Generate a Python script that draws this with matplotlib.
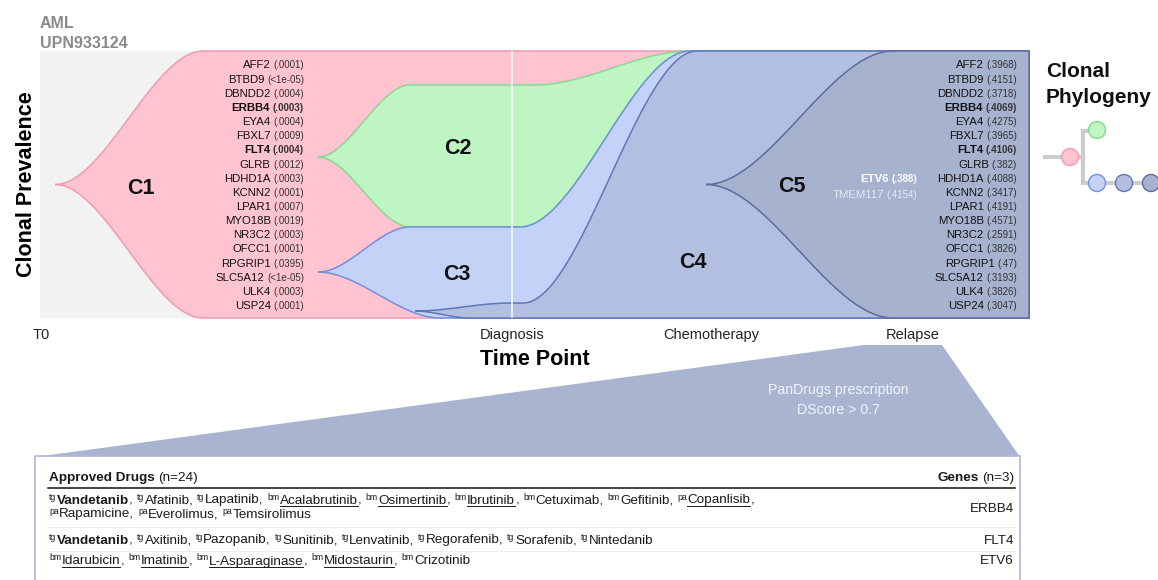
import numpy as np
import matplotlib
matplotlib.use('Agg')
import matplotlib.pyplot as plt
from matplotlib.patches import Polygon, Rectangle, Circle

plt.rcParams['font.family'] = ['Liberation Sans', 'DejaVu Sans']

# ---- data ----
timepoints = ['T0', 'Diagnosis', 'Chemotherapy', 'Relapse']
time_pos = [1, 472, 671, 873]

# clone edges as (time, prevalence) keyframes, upper and lower
clone_names = ['C1', 'C2', 'C3', 'C4', 'C5']
c1_top = [(15, .5), (163, 1.0), (989, 1.0)]
c1_bot = [(15, .5), (163, 0.0), (989, 0.0)]
c2_top = [(278, .603), (370, .873), (495, .873), (650, 1.0), (989, 1.0)]
c2_bot = [(278, .603), (370, .341), (480, .341), (650, 1.0), (989, 1.0)]
c3_top = [(278, .172), (370, .341), (480, .341), (650, 1.0), (989, 1.0)]
c3_bot = [(278, .172), (400, 0.0), (989, 0.0)]
c4_top = [(375, .026), (470, .056), (483, .056), (657, 1.0), (989, 1.0)]
c4_bot = [(375, .026), (430, 0.0), (989, 0.0)]
c5_top = [(666, .5), (853, 1.0), (989, 1.0)]
c5_bot = [(666, .5), (853, 0.0), (989, 0.0)]

genes = ['AFF2', 'BTBD9', 'DBNDD2', 'ERBB4', 'EYA4', 'FBXL7', 'FLT4', 'GLRB', 'HDHD1A',
         'KCNN2', 'LPAR1', 'MYO18B', 'NR3C2', 'OFCC1', 'RPGRIP1', 'SLC5A12', 'ULK4', 'USP24']
vaf_t0 = ['.0001', '<1e-05', '.0004', '.0003', '.0004', '.0009', '.0004', '.0012', '.0003',
          '.0001', '.0007', '.0019', '.0003', '.0001', '.0395', '<1e-05', '.0003', '.0001']
vaf_relapse = ['.3968', '.4151', '.3718', '.4069', '.4275', '.3965', '.4106', '.382', '.4088',
               '.3417', '.4191', '.4571', '.2591', '.3826', '.47', '.3193', '.3826', '.3047']
highlight = ['ERBB4', 'FLT4']
c5_genes = ['ETV6', 'TMEM117']
c5_vaf = ['.388', '.4154']

# drug table: (source, drug, style) b=bold u=underline
erbb4_drugs = [[('tg', 'Vandetanib', 'b'), ('tg', 'Afatinib', ''), ('tg', 'Lapatinib', ''),
                ('bm', 'Acalabrutinib', 'u'), ('bm', 'Osimertinib', 'u'), ('bm', 'Ibrutinib', 'u'),
                ('bm', 'Cetuximab', ''), ('bm', 'Gefitinib', ''), ('pa', 'Copanlisib', 'u')],
               [('pa', 'Rapamicine', ''), ('pa', 'Everolimus', ''), ('pa', 'Temsirolimus', '')]]
flt4_drugs = [[('tg', 'Vandetanib', 'b'), ('tg', 'Axitinib', ''), ('tg', 'Pazopanib', ''),
               ('tg', 'Sunitinib', ''), ('tg', 'Lenvatinib', ''), ('tg', 'Regorafenib', ''),
               ('tg', 'Sorafenib', ''), ('tg', 'Nintedanib', '')]]
etv6_drugs = [[('bm', 'Idarubicin', 'u'), ('bm', 'Imatinib', 'u'), ('bm', 'L-Asparaginase', 'u'),
               ('bm', 'Midostaurin', 'u'), ('bm', 'Crizotinib', '')]]
table_genes = ['ERBB4', 'FLT4', 'ETV6']
table_rows = [erbb4_drugs, flt4_drugs, etv6_drugs]

fills = ['#ffc4d0', '#bff4c3', '#c5d2f7', '#b3bfe0', '#a7b2cf']
edges = ['#f29bb0', '#86d993', '#7090df', '#6077b8', '#5d6c9c']
ink = '#1a1a1a'


def edge_curve(keys, xs):
    kx = np.array([k[0] for k in keys], float)
    ky = np.array([k[1] for k in keys], float)
    out = np.zeros_like(xs)
    for i in range(len(kx) - 1):
        m = (xs >= kx[i]) & (xs <= kx[i + 1])
        t = (xs[m] - kx[i]) / (kx[i + 1] - kx[i])
        s = t * t * (3 - 2 * t)
        out[m] = ky[i] + (ky[i + 1] - ky[i]) * s
    return out


fig = plt.figure(figsize=(11.58, 5.8), dpi=100)

# ---- fish plot ----
ax = fig.add_axes([40 / 1158, 1 - 318 / 580, 989 / 1158, 267 / 580])
ax.set_facecolor('#f2f2f2')
ax.set_xlim(0, 989)
ax.set_ylim(0, 1)
tops = [c1_top, c2_top, c3_top, c4_top, c5_top]
bots = [c1_bot, c2_bot, c3_bot, c4_bot, c5_bot]
for top, bot, fc, ec in zip(tops, bots, fills, edges):
    xs = np.linspace(top[0][0], top[-1][0], 800)
    yt = edge_curve(top, xs)
    yb = edge_curve(bot, xs)
    ax.fill(np.concatenate([xs, xs[::-1]]), np.concatenate([yt, yb[::-1]]),
            facecolor=fc, edgecolor=ec, lw=1.1, clip_on=False)
ax.axvline(time_pos[1], color='white', lw=1.3, alpha=0.8)
ax.set_xticks(time_pos)
ax.set_xticklabels(timepoints, fontsize=10.5, color='#222222')
ax.tick_params(axis='x', length=0, pad=7)
ax.set_yticks([])
for s in ax.spines.values():
    s.set_visible(False)
ax.set_xlabel('Time Point', fontsize=15.5, fontweight='bold', labelpad=5)
ax.set_ylabel('Clonal Prevalence', fontsize=15.5, fontweight='bold', labelpad=2)

# ---- overlay in pixel units ----
ov = fig.add_axes([0, 0, 1, 1])
ov.set_xlim(0, 1158)
ov.set_ylim(580, 0)
ov.axis('off')
ov.patch.set_alpha(0)
rend = fig.canvas.get_renderer()


def wid(t):
    return t.get_window_extent(renderer=rend).width


def txt(x, y, s, size, weight='normal', color=ink, ha='left'):
    return ov.text(x, y, s, fontsize=size, fontweight=weight, color=color, ha=ha, va='baseline')


def gap(size, weight='normal'):
    a = txt(0, -50, 'n n', size, weight)
    b = txt(0, -50, 'nn', size, weight)
    g = wid(a) - wid(b)
    a.remove()
    b.remove()
    return g


txt(40, 28, 'AML', 11.5, 'bold', '#8a8a8a')
txt(40, 48, 'UPN933124', 11.5, 'bold', '#8a8a8a')

for lab, (cx, cy) in zip(clone_names, [(141, 188), (458, 149), (457, 275), (693, 262), (792, 186)]):
    ov.text(cx, cy, lab, fontsize=15.5, fontweight='bold', color='#111111', ha='center', va='center')


def gene_list(xr, vals):
    for i, (g, v) in enumerate(zip(genes, vals)):
        y = 68.5 + i * 14.15
        wt = 'bold' if g in highlight else 'normal'
        t = txt(xr, y, '(' + v + ')', 7, wt, '#333333', 'right')
        txt(xr - wid(t) - gap(8.2, wt) + 0.5, y, g, 8.2, wt, '#111111', 'right')


gene_list(304, vaf_t0)
gene_list(1017, vaf_relapse)
for i, (g, v) in enumerate(zip(c5_genes, c5_vaf)):
    y = 182 + i * 15.5
    wt = 'bold' if i == 0 else 'normal'
    col = '#ffffff' if i == 0 else '#e6eaf4'
    t = txt(917, y, '(' + v + ')', 7, wt, col, 'right')
    txt(917 - wid(t) - gap(8.2, wt) + 0.5, y, g, 8.2, wt, col, 'right')

# phylogeny
txt(1046, 77, 'Clonal', 15, 'bold', '#111111')
txt(1046, 103, 'Phylogeny', 15, 'bold', '#111111')
lc = '#cdcdcd'
ov.plot([1043, 1083], [157, 157], color=lc, lw=3, solid_capstyle='butt')
ov.plot([1083, 1083], [130, 184], color=lc, lw=3, solid_capstyle='butt')
ov.plot([1083, 1097], [131, 131], color=lc, lw=3)
ov.plot([1083, 1155], [183, 183], color=lc, lw=3)
for (cx, cy), fc, ec in zip([(1070, 157), (1097, 130), (1097, 183), (1124, 183), (1151, 183)], fills, edges):
    ov.add_patch(Circle((cx, cy), 8.5, facecolor=fc, edgecolor=ec, lw=1, zorder=3))

# funnel + table
ov.add_patch(Polygon([(35, 457), (864, 345), (942, 345), (1020, 457)], closed=True,
                     facecolor='#a9b4d1', edgecolor='none'))
ov.text(838, 390, 'PanDrugs prescription', fontsize=10.2, color='#f2f4fa', ha='center', va='center')
ov.text(838, 410, 'DScore > 0.7', fontsize=10.2, color='#f2f4fa', ha='center', va='center')
ov.add_patch(Rectangle((35, 456), 985, 140, facecolor='white', edgecolor='#b0b9d3', lw=1.2))

fs = 9.7
sp = gap(fs) - 0.8
t = txt(49, 481, 'Approved Drugs', fs, 'bold')
txt(49 + wid(t) + sp, 481, '(n=24)', fs)
t = txt(1014, 481, '(n=3)', fs, ha='right')
txt(1014 - wid(t) - sp, 481, 'Genes', fs, 'bold', ha='right')
ov.plot([48, 1015], [488, 488], color='#111111', lw=1.1)
for yl in [527, 551]:
    ov.plot([48, 1015], [yl, yl], color='#eeeeee', lw=0.8)

row_lines = [[503.5, 517.5], [543.5], [564.5]]
gene_y = [511.5, 543.5, 564.5]
for lines, ys, gname, gy in zip(table_rows, row_lines, table_genes, gene_y):
    for li, (entries, y) in enumerate(zip(lines, ys)):
        x = 49
        for i, (src, name, sty) in enumerate(entries):
            t = txt(x, y - 4, src, 6.3)
            x += wid(t) + 0.5
            last = (li == len(lines) - 1) and (i == len(entries) - 1)
            wt = 'bold' if 'b' in sty else 'normal'
            if 'u' in sty or wt == 'bold':
                t = txt(x, y, name, fs, wt)
                w = wid(t)
                if 'u' in sty:
                    ov.plot([x, x + w], [y + 2, y + 2], color=ink, lw=0.7)
                x += w
                if not last:
                    t = txt(x + 0.4, y, ',', fs)
                    x += wid(t) + 0.4 + sp + 0.8
            else:
                t = txt(x, y, name if last else name + ',', fs, wt)
                x += wid(t) + sp + 0.8
    txt(1014, gy, gname, fs, ha='right')

fig.savefig('out.png', dpi=100)
